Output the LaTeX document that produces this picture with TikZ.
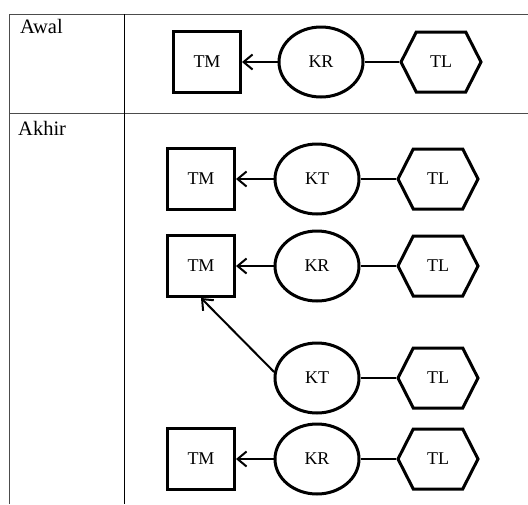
\documentclass[tikz,border=0pt]{standalone}
\usepackage{fontspec}
\setmainfont{Liberation Serif}
\usetikzlibrary{shapes.geometric,shapes.symbols,arrows.meta}
\begin{document}
\begin{tikzpicture}[x=1pt,y=-1pt,font=\fontsize{18}{21}\selectfont,
		tm/.style={draw,line width=3pt,minimum width=67pt,minimum height=61pt,inner sep=0pt},
		kr/.style={draw,ellipse,line width=3pt,minimum width=84pt,minimum height=70pt,inner sep=0pt},
		tl/.style={draw,signal,signal to=east and west,signal pointer angle=126,line width=3pt,minimum width=80pt,minimum height=60pt,inner sep=0pt},
		link/.style={line width=2pt},
		>={Straight Barb[length=9pt,width=15pt]}]
	\useasboundingbox (0,0) rectangle (528,504);
	% tabel
	\draw[line width=1pt,black!70] (528,14)--(9,14)--(9,504) (9,113)--(528,113);
	\draw[line width=1pt] (124,14)--(124,504);
	\node[anchor=base west,inner sep=0pt,font=\fontsize{20.5}{24}\selectfont] (awal) at (20,33) {Awal};
	\node[anchor=base west,inner sep=0pt,font=\fontsize{20.5}{24}\selectfont] (akhir) at (18,135) {Akhir};
	% awal
	\node[tm] (tm1) at (207,62) {TM};
	\node[kr] (kr1) at (321,62) {KR};
	\node[tl] (tl1) at (441,62) {TL};
	\draw[link,->] (kr1)--(tm1);
	\draw[link] (kr1)--(tl1);
	% akhir
	\node[tm] (tm2) at (201,179) {TM};
	\node[kr] (kt2) at (317,179) {KT};
	\node[tl] (tl2) at (438,179) {TL};
	\node[tm] (tm3) at (201,266) {TM};
	\node[kr] (kr3) at (317,266) {KR};
	\node[tl] (tl3) at (438,266) {TL};
	\node[kr] (kt4) at (317,378) {KT};
	\node[tl] (tl4) at (438,378) {TL};
	\node[tm] (tm5) at (201,459) {TM};
	\node[kr] (kr5) at (317,459) {KR};
	\node[tl] (tl5) at (438,459) {TL};
	\draw[link,->] (kt2)--(tm2);
	\draw[link] (kt2)--(tl2);
	\draw[link,->] (kr3)--(tm3);
	\draw[link] (kr3)--(tl3);
	\draw[link,->] (kt4.172)--(tm3.south);
	\draw[link] (kt4)--(tl4);
	\draw[link,->] (kr5)--(tm5);
	\draw[link] (kr5)--(tl5);
\end{tikzpicture}
\end{document}
